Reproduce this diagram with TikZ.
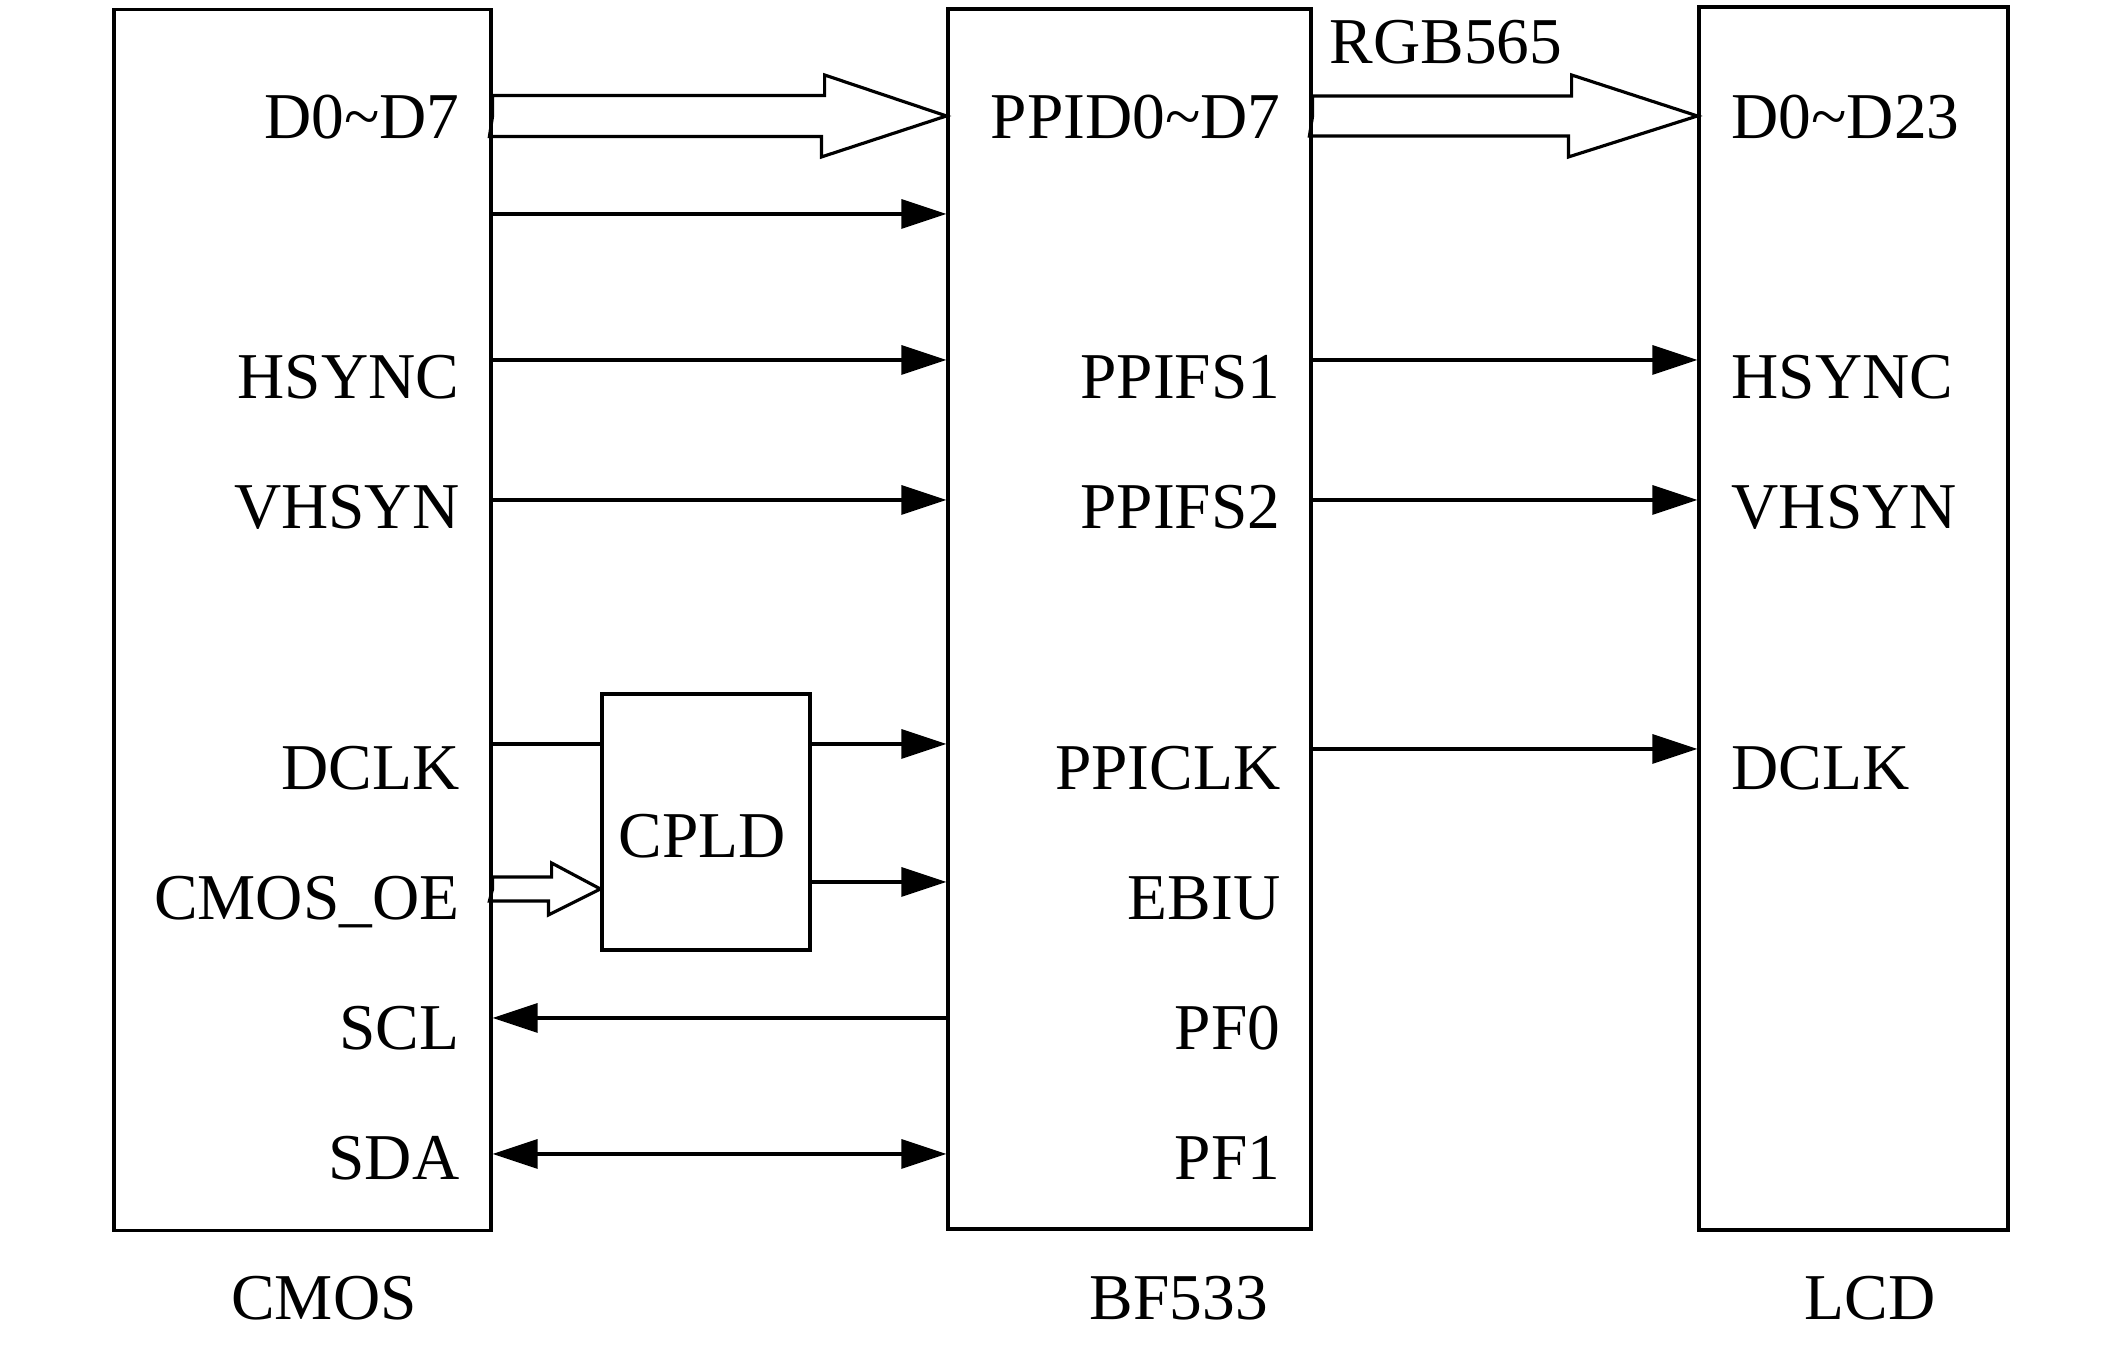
\documentclass[tikz,border=0pt]{standalone}
\usepackage{fontspec}
\setmainfont{Liberation Serif}
\usetikzlibrary{arrows.meta}

\tikzset{
  blk/.style={draw, line width=0.9pt, inner sep=0},
  lbl/.style={inner sep=0, font=\fontsize{18.6}{22}\selectfont},
  sig/.style={line width=0.9pt, ->},
  bus/.style={line width=0.9pt, line join=miter},
}

\begin{document}
\begin{tikzpicture}[>={Triangle[length=0.45cm,width=0.29cm]}]

    %% CMOS -> BF533 -> LCD interface
    \useasboundingbox (0,0) rectangle (21.26,13.46);

    % Blocks
    \node[blk, minimum width=3.77cm, minimum height=12.21cm] (cmos) at (3.025,7.26) {};
    \node[blk, minimum width=3.63cm, minimum height=12.20cm] (bf) at (11.295,7.27) {};
    \node[blk, minimum width=3.09cm, minimum height=12.23cm] (lcd) at (18.535,7.275) {};
    \node[blk, minimum width=2.08cm, minimum height=2.56cm] (cpld) at (7.06,5.24) {};
    \node[lbl, anchor=base] (cpldtxt) at (7.02,4.88) {CPLD};

    % Signal levels
    \coordinate (rD) at (0,12.30);
    \coordinate (rD2) at (0,11.32);
    \coordinate (rHS) at (0,9.86);
    \coordinate (rVS) at (0,8.46);
    \coordinate (rCK) at (0,6.02);
    \coordinate (rCK2) at (0,5.97);
    \coordinate (rOE) at (0,4.57);
    \coordinate (rEB) at (0,4.64);
    \coordinate (rSCL) at (0,3.28);
    \coordinate (rSDA) at (0,1.92);

    % CMOS pins
    \node[lbl, anchor=base east] (cD) at (4.60,12.07) {D0\textasciitilde D7};
    \node[lbl, anchor=base east] (cHS) at (4.60,9.47) {HSYNC};
    \node[lbl, anchor=base east] (cVS) at (4.60,8.17) {VHSYN};
    \node[lbl, anchor=base east] (cCK) at (4.60,5.56) {DCLK};
    \node[lbl, anchor=base east] (cOE) at (4.60,4.26) {CMOS\_OE};
    \node[lbl, anchor=base east] (cSCL) at (4.60,2.96) {SCL};
    \node[lbl, anchor=base east] (cSDA) at (4.60,1.66) {SDA};

    % BF533 pins
    \node[lbl, anchor=base east] (bD) at (12.81,12.07) {PPID0\textasciitilde D7};
    \node[lbl, anchor=base east] (bFS1) at (12.81,9.47) {PPIFS1};
    \node[lbl, anchor=base east] (bFS2) at (12.81,8.17) {PPIFS2};
    \node[lbl, anchor=base east] (bCK) at (12.81,5.56) {PPICLK};
    \node[lbl, anchor=base east] (bEB) at (12.81,4.26) {EBIU};
    \node[lbl, anchor=base east] (bPF0) at (12.81,2.96) {PF0};
    \node[lbl, anchor=base east] (bPF1) at (12.81,1.66) {PF1};

    % LCD pins
    \node[lbl, anchor=base west] (lD) at (17.31,12.07) {D0\textasciitilde D23};
    \node[lbl, anchor=base west] (lHS) at (17.31,9.47) {HSYNC};
    \node[lbl, anchor=base west] (lVS) at (17.31,8.17) {VHSYN};
    \node[lbl, anchor=base west] (lCK) at (17.31,5.56) {DCLK};

    % Block names
    \node[lbl, anchor=base] (ncmos) at (3.24,0.26) {CMOS};
    \node[lbl, anchor=base] (nbf) at (11.79,0.26) {BF533};
    \node[lbl, anchor=base] (nlcd) at (18.70,0.26) {LCD};
    \node[lbl, anchor=base west] (nrgb) at (13.29,12.82) {RGB565};

    % Data buses
    \draw[bus] (cmos.east |- rD) -- ++(0,0.205) -- ++(3.32,0) -- ++(0,0.205)
        -- (bf.west |- rD) -- ++(-1.25,-0.41) -- ++(0,0.205) -- ++(-3.32,0) -- cycle;
    \draw[bus] (bf.east |- rD) -- ++(0,0.20) -- ++(2.59,0) -- ++(0,0.21)
        -- (lcd.west |- rD) -- ++(-1.29,-0.41) -- ++(0,0.21) -- ++(-2.59,0) -- cycle;
    \draw[bus] (cmos.east |- rOE) -- ++(0,0.12) -- ++(0.59,0) -- ++(0,0.14)
        -- (cpld.west |- rOE) -- ++(-0.52,-0.26) -- ++(0,0.14) -- ++(-0.59,0) -- cycle;

    % CMOS to BF533
    \draw[sig] (cmos.east |- rD2) -- (bf.west |- rD2);
    \draw[sig] (cmos.east |- rHS) -- (bf.west |- rHS);
    \draw[sig] (cmos.east |- rVS) -- (bf.west |- rVS);
    \draw[line width=0.9pt] (cmos.east |- rCK) -- (cpld.west |- rCK);
    \draw[sig] (cpld.east |- rCK) -- (bf.west |- rCK);
    \draw[sig] (cpld.east |- rEB) -- (bf.west |- rEB);
    \draw[sig] (bf.west |- rSCL) -- (cmos.east |- rSCL);
    \draw[sig, <->] (cmos.east |- rSDA) -- (bf.west |- rSDA);

    % BF533 to LCD
    \draw[sig] (bf.east |- rHS) -- (lcd.west |- rHS);
    \draw[sig] (bf.east |- rVS) -- (lcd.west |- rVS);
    \draw[sig] (bf.east |- rCK2) -- (lcd.west |- rCK2);

\end{tikzpicture}
\end{document}
